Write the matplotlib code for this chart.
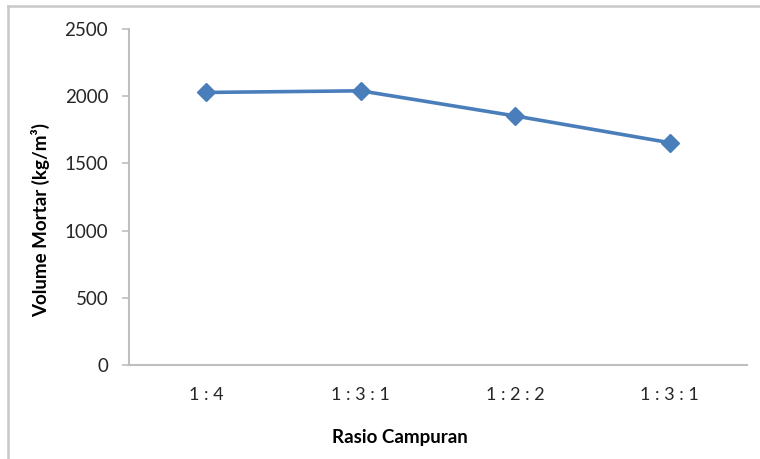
import matplotlib
matplotlib.use("Agg")
import matplotlib.pyplot as plt
from matplotlib.lines import Line2D

# ── Data ──────────────────────────────────────────────────────────────────────
ratios = ["1 : 4", "1 : 3 : 1", "1 : 2 : 2", "1 : 3 : 1"]
volume = [2028, 2040, 1853, 1654]
y_ticks = [0, 500, 1000, 1500, 2000, 2500]

# ── Style ─────────────────────────────────────────────────────────────────────
CLR_LINE = "#4a7ebb"
CLR_AXIS = "#bfbfbf"
CLR_TEXT = "#262626"
plt.rcParams["font.family"] = ["Lato", "DejaVu Sans"]

W, H = 760, 459
fig = plt.figure(figsize=(W / 100, H / 100), dpi=100)
ax = fig.add_axes([129 / W, 1 - 365 / H, (747 - 129) / W, (365 - 29) / H])

x = list(range(len(ratios)))
ax.plot(x, volume, color=CLR_LINE, linewidth=2.6, marker="D", markersize=9,
        markeredgecolor=CLR_LINE, zorder=3)

ax.set_xlim(-0.5, len(ratios) - 0.5)
ax.set_ylim(0, 2500)
ax.set_yticks(y_ticks)
ax.set_xticks(x)
ax.set_xticklabels(ratios)

for s in ("top", "right"):
    ax.spines[s].set_visible(False)
for s in ("left", "bottom"):
    ax.spines[s].set_color(CLR_AXIS)
    ax.spines[s].set_linewidth(1.5)

ax.tick_params(axis="y", length=5, width=1.2, color=CLR_AXIS, pad=10,
               labelsize=13.5, labelcolor=CLR_TEXT)
ax.tick_params(axis="x", length=0, pad=16, labelsize=13, labelcolor=CLR_TEXT)

ax.set_ylabel("Volume Mortar (kg/m³)", fontsize=13.5, fontweight="bold")
ax.yaxis.set_label_coords((50 - 129) / (747 - 129), (365 - 220) / (365 - 29))
ax.set_xlabel("Rasio Campuran", fontsize=13.5, fontweight="bold")
ax.xaxis.set_label_coords((400 - 129) / (747 - 129), -(429 - 365) / (365 - 29))

# chart area border (top and left visible)
fig.add_artist(Line2D([8 / W, 8 / W], [0, 1 - 6 / H], transform=fig.transFigure,
                      color="#c8c8c8", linewidth=1.8))
fig.add_artist(Line2D([8 / W, 1], [1 - 6 / H, 1 - 6 / H], transform=fig.transFigure,
                      color="#c8c8c8", linewidth=1.8))

fig.savefig("out.png", dpi=100, facecolor="white")
